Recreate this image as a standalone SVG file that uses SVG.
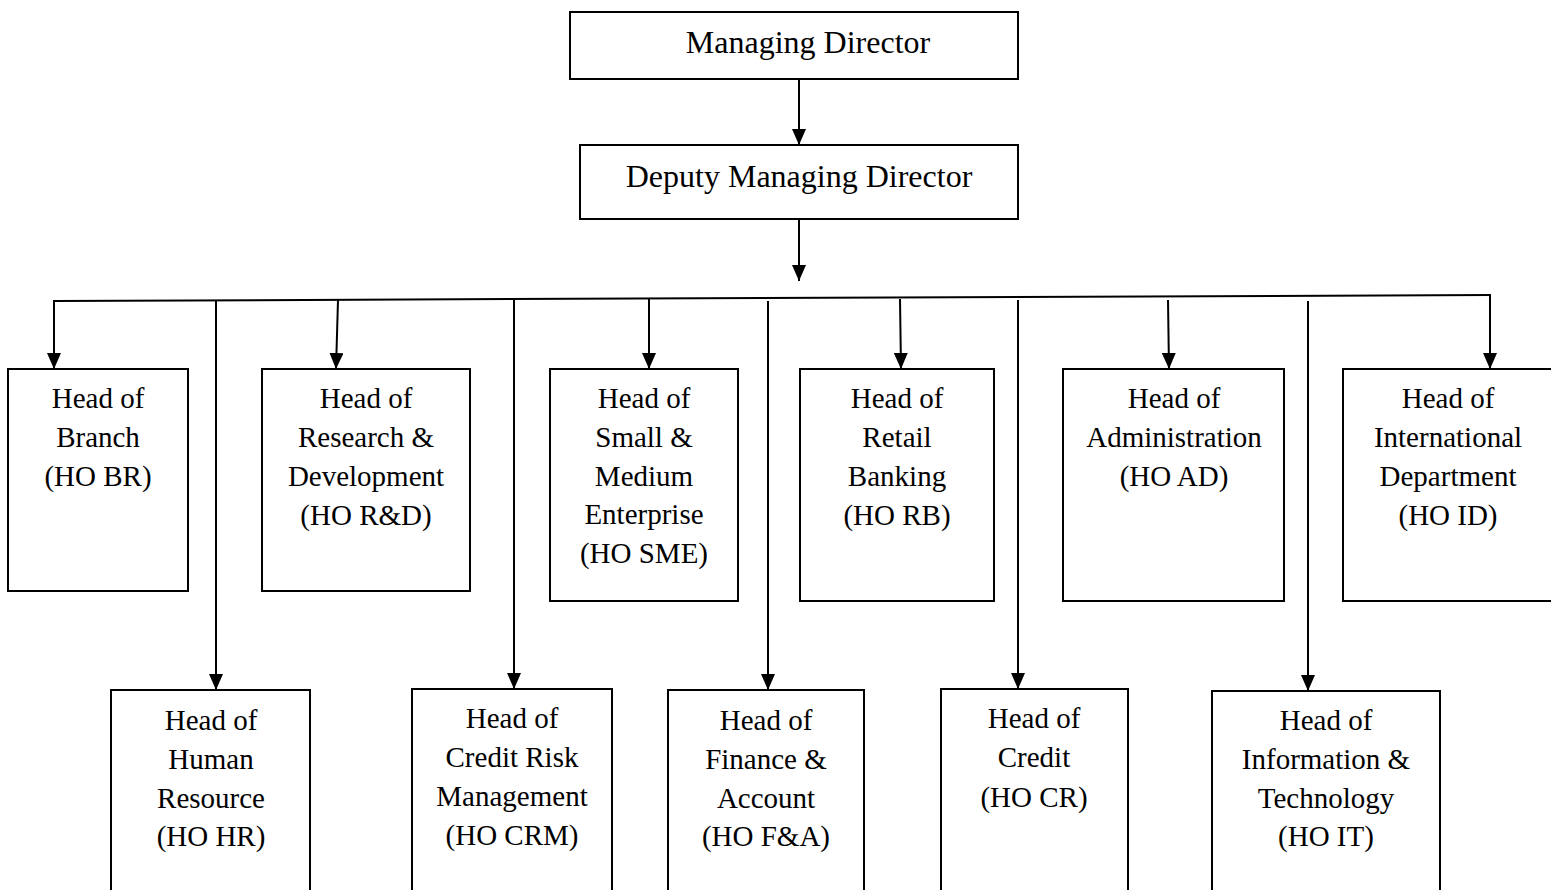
<svg xmlns="http://www.w3.org/2000/svg" width="1551" height="890" viewBox="0 0 1551 890">
<style>
.box{fill:#fff;stroke:#000;stroke-width:2}
.ln{fill:none;stroke:#000;stroke-width:2}
.t{font-family:"Liberation Serif","Times New Roman",serif;font-size:29px;fill:#000;text-anchor:middle}
.tt{font-family:"Liberation Serif","Times New Roman",serif;font-size:32px;fill:#000;text-anchor:middle}
</style>
<defs>
<marker id="ah" viewBox="0 0 16 14" refX="16" refY="7" markerWidth="16" markerHeight="14" markerUnits="userSpaceOnUse" orient="auto">
<path d="M0,0 L16,7 L0,14 z" fill="#000"/>
</marker>
</defs>
<rect width="1551" height="890" fill="#fff"/>
<g id="connectors">
<line class="ln" x1="799" y1="79" x2="799" y2="145" marker-end="url(#ah)"/>
<line class="ln" x1="799" y1="219" x2="799" y2="281" marker-end="url(#ah)"/>
<line class="ln" x1="54" y1="301" x2="1491" y2="295"/>
<line class="ln" x1="54" y1="300" x2="54" y2="369" marker-end="url(#ah)"/>
<line class="ln" x1="338" y1="300" x2="336" y2="369" marker-end="url(#ah)"/>
<line class="ln" x1="649" y1="299" x2="649" y2="369" marker-end="url(#ah)"/>
<line class="ln" x1="900" y1="299" x2="901" y2="369" marker-end="url(#ah)"/>
<line class="ln" x1="1168" y1="300" x2="1169" y2="369" marker-end="url(#ah)"/>
<line class="ln" x1="1490" y1="295" x2="1490" y2="369" marker-end="url(#ah)"/>
<line class="ln" x1="216" y1="300" x2="216" y2="690" marker-end="url(#ah)"/>
<line class="ln" x1="514" y1="300" x2="514" y2="689" marker-end="url(#ah)"/>
<line class="ln" x1="768" y1="301" x2="768" y2="690" marker-end="url(#ah)"/>
<line class="ln" x1="1018" y1="300" x2="1018" y2="689" marker-end="url(#ah)"/>
<line class="ln" x1="1308" y1="301" x2="1308" y2="691" marker-end="url(#ah)"/>
</g>
<g id="md"><rect class="box" x="570" y="12" width="448" height="67"/><text class="tt" x="808" y="53">Managing Director</text></g>
<g id="dmd"><rect class="box" x="580" y="145" width="438" height="74"/><text class="tt" x="799" y="187">Deputy Managing Director</text></g>
<g id="hobr"><rect class="box" x="8" y="369" width="180" height="222"/>
<text class="t" x="98" y="408">Head of</text><text class="t" x="98" y="447">Branch</text><text class="t" x="98" y="486">(HO BR)</text></g>
<g id="hord"><rect class="box" x="262" y="369" width="208" height="222"/>
<text class="t" x="366" y="408">Head of</text><text class="t" x="366" y="447">Research &amp;</text><text class="t" x="366" y="486">Development</text><text class="t" x="366" y="525">(HO R&amp;D)</text></g>
<g id="hosme"><rect class="box" x="550" y="369" width="188" height="232"/>
<text class="t" x="644" y="408">Head of</text><text class="t" x="644" y="447">Small &amp;</text><text class="t" x="644" y="486">Medium</text><text class="t" x="644" y="524">Enterprise</text><text class="t" x="644" y="563">(HO SME)</text></g>
<g id="horb"><rect class="box" x="800" y="369" width="194" height="232"/>
<text class="t" x="897" y="408">Head of</text><text class="t" x="897" y="447">Retail</text><text class="t" x="897" y="486">Banking</text><text class="t" x="897" y="525">(HO RB)</text></g>
<g id="hoad"><rect class="box" x="1063" y="369" width="221" height="232"/>
<text class="t" x="1174" y="408">Head of</text><text class="t" x="1174" y="447">Administration</text><text class="t" x="1174" y="486">(HO AD)</text></g>
<g id="hoid"><rect class="box" x="1343" y="369" width="212" height="232"/>
<text class="t" x="1448" y="408">Head of</text><text class="t" x="1448" y="447">International</text><text class="t" x="1448" y="486">Department</text><text class="t" x="1448" y="525">(HO ID)</text></g>
<g id="hohr"><rect class="box" x="111" y="690" width="199" height="210"/>
<text class="t" x="211" y="730">Head of</text><text class="t" x="211" y="769">Human</text><text class="t" x="211" y="808">Resource</text><text class="t" x="211" y="846">(HO HR)</text></g>
<g id="hocrm"><rect class="box" x="412" y="689" width="200" height="211"/>
<text class="t" x="512" y="728">Head of</text><text class="t" x="512" y="767">Credit Risk</text><text class="t" x="512" y="806">Management</text><text class="t" x="512" y="845">(HO CRM)</text></g>
<g id="hofa"><rect class="box" x="668" y="690" width="196" height="210"/>
<text class="t" x="766" y="730">Head of</text><text class="t" x="766" y="769">Finance &amp;</text><text class="t" x="766" y="808">Account</text><text class="t" x="766" y="846">(HO F&amp;A)</text></g>
<g id="hocr"><rect class="box" x="941" y="689" width="187" height="211"/>
<text class="t" x="1034" y="728">Head of</text><text class="t" x="1034" y="767">Credit</text><text class="t" x="1034" y="807">(HO CR)</text></g>
<g id="hoit"><rect class="box" x="1212" y="691" width="228" height="209"/>
<text class="t" x="1326" y="730">Head of</text><text class="t" x="1326" y="769">Information &amp;</text><text class="t" x="1326" y="808">Technology</text><text class="t" x="1326" y="846">(HO IT)</text></g>
</svg>
